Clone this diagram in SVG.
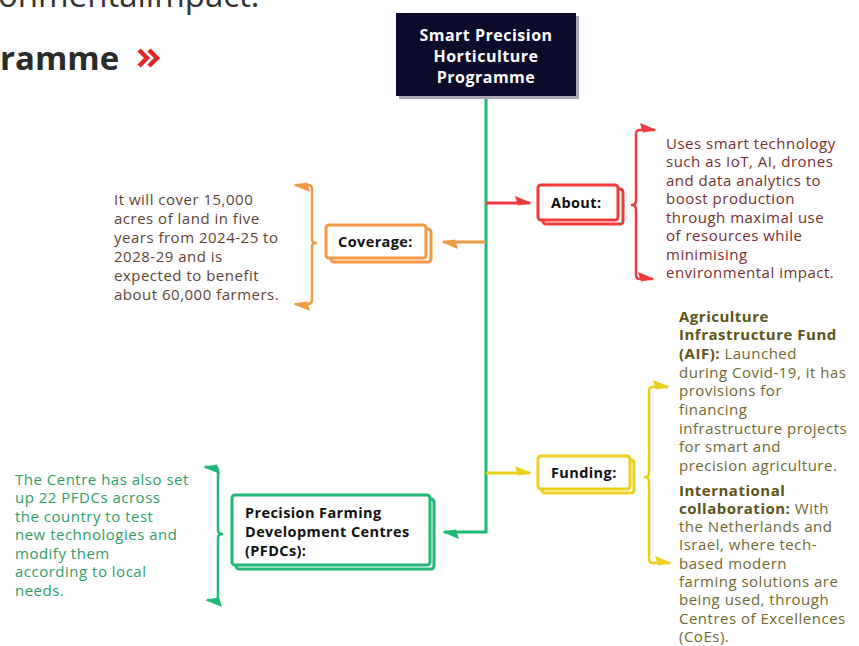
<svg xmlns="http://www.w3.org/2000/svg" width="859" height="646" viewBox="0 0 859 646">
<style>
.t{font-family:"Open Sans","Liberation Sans",sans-serif;font-size:15px;letter-spacing:0.5px}
.b{font-weight:700}
.lbl{font-family:"Open Sans","Liberation Sans",sans-serif;font-weight:700;font-size:14.5px;fill:#111;letter-spacing:0.4px}
.box{fill:#fff;stroke-width:3}
.ln{fill:none;stroke-width:3}
.br{fill:none;stroke-width:2.5;stroke-linejoin:round}
.red{stroke:#ef3b3b}.org{stroke:#f29a43}.yel{stroke:#ecd01c}.grn{stroke:#1fb877}
</style>
<defs>
<marker id="aR" viewBox="-17 -9 20 14" markerWidth="20" markerHeight="14" refX="0" refY="0" markerUnits="userSpaceOnUse" orient="auto-start-reverse"><path d="M2,0 L-15,-7 L-12,2.5 Z" fill="#ef3b3b"/></marker>
<marker id="aO" viewBox="-17 -9 20 14" markerWidth="20" markerHeight="14" refX="0" refY="0" markerUnits="userSpaceOnUse" orient="auto-start-reverse"><path d="M2,0 L-15,-7 L-12,2.5 Z" fill="#f29a43"/></marker>
<marker id="aY" viewBox="-17 -9 20 14" markerWidth="20" markerHeight="14" refX="0" refY="0" markerUnits="userSpaceOnUse" orient="auto-start-reverse"><path d="M2,0 L-15,-7 L-12,2.5 Z" fill="#ecd01c"/></marker>
<marker id="aG" viewBox="-17 -9 20 14" markerWidth="20" markerHeight="14" refX="0" refY="0" markerUnits="userSpaceOnUse" orient="auto-start-reverse"><path d="M2,0 L-15,-7 L-12,2.5 Z" fill="#1fb877"/></marker>
</defs>
<rect width="859" height="646" fill="#fff"/>

<g id="page-fragment">
<text x="-2" y="7" font-family="'Open Sans','Liberation Sans',sans-serif" font-size="33" fill="#333">onmentalimpact.</text>
<text x="0" y="70" font-family="'Open Sans','Liberation Sans',sans-serif" font-size="33" font-weight="700" fill="#2b2b2b">ramme</text>
<path d="M139,50 L147,58 L139,66 M149,50 L157,58 L149,66" fill="none" stroke="#e32626" stroke-width="4.5"/>
</g>

<g id="connectors">
<path class="ln grn" d="M486,97 L486,532 L444,532" marker-end="url(#aG)"/>
<path class="ln red" d="M486,203 L530,203" marker-end="url(#aR)"/>
<path class="ln org" d="M486,242 L443,242" marker-end="url(#aO)"/>
<path class="ln yel" d="M486,473 L530,473" marker-end="url(#aY)"/>
<path class="br red" d="M655,130 L640,130 Q636,130 636,134 L636,200 Q636,205 632,205 Q636,205 636,210 L636,275 Q636,279 640,279 L653,279" marker-start="url(#aR)" marker-end="url(#aR)"/>
<path class="br org" d="M295,185 L308,185 Q312,185 312,189 L312,239 Q312,243 316,243 Q312,243 312,247 L312,300 Q312,304 308,304 L295,304" marker-start="url(#aO)" marker-end="url(#aO)"/>
<path class="br yel" d="M668,387 L653,387 Q649,387 649,391 L649,473 Q649,477 645,477 Q649,477 649,481 L649,559 Q649,563 653,563 L670,563" marker-start="url(#aY)" marker-end="url(#aY)"/>
<path class="br grn" d="M205,467 L214,467 Q218,467 218,471 L218,530 Q218,534 222,534 Q218,534 218,538 L218,596 Q218,600 214,600 L207,600" marker-start="url(#aG)" marker-end="url(#aG)"/>
</g>

<g id="node-main">
<rect x="399" y="16" width="180" height="83" fill="#a9a9b6"/>
<rect x="396" y="13" width="180" height="83" fill="#0c0b2c"/>
<text x="486" y="40.5" text-anchor="middle" font-family="'Open Sans','Liberation Sans',sans-serif" font-weight="700" font-size="16" letter-spacing="0.5" fill="#fff">Smart Precision</text>
<text x="486" y="61.5" text-anchor="middle" font-family="'Open Sans','Liberation Sans',sans-serif" font-weight="700" font-size="16" letter-spacing="0.5" fill="#fff">Horticulture</text>
<text x="486" y="82.5" text-anchor="middle" font-family="'Open Sans','Liberation Sans',sans-serif" font-weight="700" font-size="16" letter-spacing="0.5" fill="#fff">Programme</text>
</g>

<g id="node-about">
<rect class="box red" x="543" y="189" width="80" height="35" rx="3"/>
<rect class="box red" x="538" y="185" width="80" height="35" rx="3"/>
<text class="lbl" x="551" y="208">About:</text>
</g>
<g id="text-about">
<text class="t" fill="#74302e">
<tspan x="666" y="148.5">Uses smart technology</tspan>
<tspan x="666" y="167">such as IoT, AI, drones</tspan>
<tspan x="666" y="185.5">and data analytics to</tspan>
<tspan x="666" y="204">boost production</tspan>
<tspan x="666" y="222.5">through maximal use</tspan>
<tspan x="666" y="241">of resources while</tspan>
<tspan x="666" y="259.5">minimising</tspan>
<tspan x="666" y="278">environmental impact.</tspan>
</text>
</g>

<g id="node-coverage">
<rect class="box org" x="331" y="229" width="100" height="33" rx="3"/>
<rect class="box org" x="326" y="225" width="100" height="33" rx="3"/>
<text class="lbl" x="338" y="247">Coverage:</text>
</g>
<g id="text-coverage">
<text class="t" fill="#5d4535">
<tspan x="114" y="204.5">It will cover 15,000</tspan>
<tspan x="114" y="223.5">acres of land in five</tspan>
<tspan x="114" y="242.5">years from 2024-25 to</tspan>
<tspan x="114" y="261.5">2028-29 and is</tspan>
<tspan x="114" y="280.5">expected to benefit</tspan>
<tspan x="114" y="299.5">about 60,000 farmers.</tspan>
</text>
</g>

<g id="node-funding">
<rect class="box yel" x="542" y="460" width="92" height="33" rx="3"/>
<rect class="box yel" x="538" y="456" width="92" height="33" rx="3"/>
<text class="lbl" x="551" y="478">Funding:</text>
</g>
<g id="text-funding">
<text class="t" fill="#6f6930">
<tspan x="679" y="321.7" class="b" fill="#5c5418">Agriculture</tspan>
<tspan x="679" y="340.4" class="b" fill="#5c5418">Infrastructure Fund</tspan>
<tspan x="679" y="359" class="b" fill="#5c5418">(AIF):</tspan><tspan> Launched</tspan>
<tspan x="679" y="377.7">during Covid-19, it has</tspan>
<tspan x="679" y="396.3">provisions for</tspan>
<tspan x="679" y="415">financing</tspan>
<tspan x="679" y="433.7">infrastructure projects</tspan>
<tspan x="679" y="452.3">for smart and</tspan>
<tspan x="679" y="471">precision agriculture.</tspan>
<tspan x="679" y="495.5" class="b" fill="#5c5418">International</tspan>
<tspan x="679" y="513.8" class="b" fill="#5c5418">collaboration:</tspan><tspan> With</tspan>
<tspan x="679" y="532.1">the Netherlands and</tspan>
<tspan x="679" y="550.4">Israel, where tech-</tspan>
<tspan x="679" y="568.7">based modern</tspan>
<tspan x="679" y="587">farming solutions are</tspan>
<tspan x="679" y="605.3">being used, through</tspan>
<tspan x="679" y="623.6">Centres of Excellences</tspan>
<tspan x="679" y="641.9">(CoEs).</tspan>
</text>
</g>

<g id="node-pfdc">
<rect class="box grn" x="236" y="499" width="198" height="70" rx="3"/>
<rect class="box grn" x="232" y="495" width="198" height="70" rx="3"/>
<text class="lbl">
<tspan x="245" y="518">Precision Farming</tspan>
<tspan x="245" y="537">Development Centres</tspan>
<tspan x="245" y="555.5">(PFDCs):</tspan>
</text>
</g>
<g id="text-pfdc">
<text class="t" fill="#2f9e6b">
<tspan x="15" y="484.5">The Centre has also set</tspan>
<tspan x="15" y="503">up 22 PFDCs across</tspan>
<tspan x="15" y="521.5">the country to test</tspan>
<tspan x="15" y="540">new technologies and</tspan>
<tspan x="15" y="558.5">modify them</tspan>
<tspan x="15" y="577">according to local</tspan>
<tspan x="15" y="595.5">needs.</tspan>
</text>
</g>
</svg>
